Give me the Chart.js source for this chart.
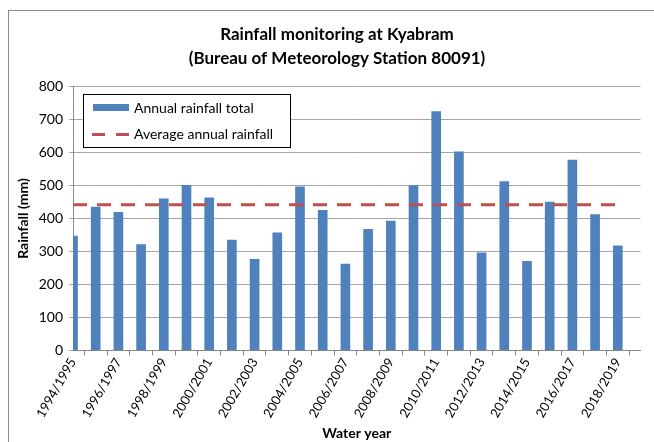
<!DOCTYPE html>
<html><head><meta charset="utf-8">
<style>html,body{margin:0;padding:0;background:#fff}#wrap{width:654px;height:442px}</style>
<script src="https://cdn.jsdelivr.net/npm/chart.js@4.4.0/dist/chart.umd.min.js"></script>
</head><body><div id="wrap"><canvas id="c" width="654" height="442"></canvas></div>
<script>
const categories = ['1994/1995','1995/1996','1996/1997','1997/1998','1998/1999','1999/2000','2000/2001','2001/2002','2002/2003','2003/2004','2004/2005','2005/2006','2006/2007','2007/2008','2008/2009','2009/2010','2010/2011','2011/2012','2012/2013','2013/2014','2014/2015','2015/2016','2016/2017','2017/2018','2018/2019'];
const annualRainfall = [347,435,419,321,460,501,463,335,276,357,496,425,262,367,392,500,724,602,296,512,270,450,577,412,317];
const averageRainfall = [442,442,442,442,442,442,442,442,442,442,442,442,442,442,442,442,442,442,442,442,442,442,442,442,442];
const yTickValues = [0,100,200,300,400,500,600,700,800];
const titleLines = ['Rainfall monitoring at Kyabram','(Bureau of Meteorology Station 80091)'];
const seriesNames = ['Annual rainfall total','Average annual rainfall'];

const FONT = 'Lato, "Open Sans", sans-serif';
const BAR_COLOR = '#4F81BD';
const LINE_COLOR = '#C0504D';

const framePlugin = {
  id: 'frame',
  beforeDraw(chart) {
    const ctx = chart.ctx;
    ctx.save();
    ctx.strokeStyle = '#8c8c8c';
    ctx.lineWidth = 1;
    ctx.strokeRect(8.5, 10.5, 700, 500);
    ctx.restore();
  },
  afterLayout(chart) {
    if (chart.titleBlock) { chart.titleBlock.left = 8; chart.titleBlock.right = 666; }
  }
};

const legendPlugin = {
  id: 'boxLegend',
  afterDraw(chart) {
    const ctx = chart.ctx;
    ctx.save();
    ctx.fillStyle = '#fff';
    ctx.fillRect(83.5, 94.5, 207, 53);
    ctx.strokeStyle = '#000';
    ctx.lineWidth = 1;
    ctx.strokeRect(83.5, 94.5, 207, 53);
    const ds = chart.data.datasets;
    ctx.fillStyle = ds[0].backgroundColor;
    ctx.fillRect(93, 104, 36, 7);
    ctx.strokeStyle = ds[1].borderColor;
    ctx.lineWidth = 3;
    ctx.beginPath();
    ctx.moveTo(92, 134.5); ctx.lineTo(105, 134.5);
    ctx.moveTo(116, 134.5); ctx.lineTo(129, 134.5);
    ctx.stroke();
    ctx.fillStyle = '#000';
    ctx.font = '14px ' + FONT;
    ctx.textBaseline = 'middle';
    ctx.textAlign = 'left';
    ctx.fillText(ds[0].label, 134, 108);
    ctx.fillText(ds[1].label, 134, 134);
    ctx.restore();
  }
};

new Chart(document.getElementById('c'), {
  data: {
    labels: [...categories, ''],
    datasets: [
      { type: 'bar', label: seriesNames[0], data: annualRainfall, backgroundColor: BAR_COLOR, barThickness: 9, clip: 0, order: 2 },
      { type: 'line', label: seriesNames[1], data: averageRainfall, borderColor: LINE_COLOR, borderWidth: 3, borderDash: [14, 10], pointRadius: 0, fill: false, order: 1, clip: false }
    ]
  },
  options: {
    responsive: false,
    animation: false,
    devicePixelRatio: 1,
    layout: { padding: { left: 8, right: 5, top: 0, bottom: 0 } },
    plugins: {
      legend: { display: false },
      tooltip: { enabled: false },
      title: {
        display: true, text: titleLines, color: '#000',
        font: { family: FONT, size: 17, weight: 'bold', lineHeight: 1.4 },
        padding: { top: 23, bottom: 16 }
      }
    },
    scales: {
      x: {
        type: 'category',
        offset: false,
        grid: { display: true, drawOnChartArea: false, drawTicks: true, tickLength: 5, color: '#888' },
        border: { color: '#888' },
        ticks: {
          autoSkip: false, maxRotation: 60, minRotation: 60, color: '#000', padding: 0,
          font: { family: FONT, size: 13 },
          callback: function (value, index) { return index % 2 === 0 && index < categories.length ? categories[index] : ''; }
        },
        title: { display: true, text: 'Water year', color: '#000', font: { family: FONT, size: 14, weight: 'bold' }, padding: { top: 0, bottom: 0 } },
        afterFit(scale) { scale.height = 442 - 350.5; }
      },
      y: {
        min: 0, max: 800,
        afterBuildTicks(scale) { scale.ticks = yTickValues.map(v => ({ value: v })); },
        grid: { color: '#a6a6a6', tickLength: 4 },
        border: { color: '#888' },
        ticks: { color: '#000', padding: 6, font: { family: FONT, size: 14 } },
        title: { display: true, text: 'Rainfall (mm)', color: '#000', font: { family: FONT, size: 14, weight: 'bold' }, padding: { top: 7, bottom: 4 } },
        afterFit(scale) { scale.width = 73 - 8; }
      }
    }
  },
  plugins: [framePlugin, legendPlugin]
});
</script>
</body></html>
